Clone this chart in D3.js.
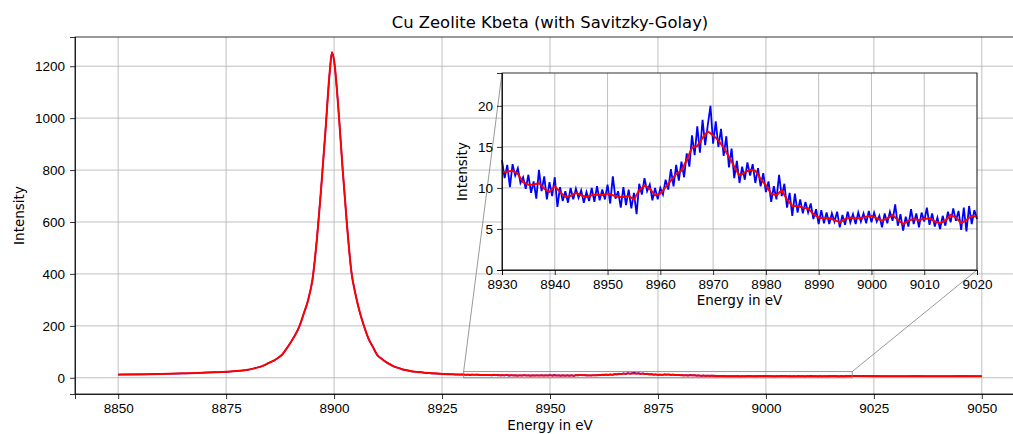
<!DOCTYPE html>
<html>
<head>
<meta charset="utf-8">
<script src="https://cdn.jsdelivr.net/npm/d3@7"></script>
<style>
  body { margin: 0; background: #fff; }
  svg { display: block; font-family: "DejaVu Sans", sans-serif; }
  .grid line { stroke: #b0b0b0; stroke-width: 0.8; }
  .axis path, .axis line { stroke: #000; stroke-width: 0.8; }
  .axis text { fill: #000; font-size: 13.5px; }
</style>
</head>
<body>
<svg width="1013" height="434"></svg>
<script>
// Cu Zeolite Kbeta spectrum, raw (blue) and Savitzky-Golay smoothed (red)

// left part of the spectrum, before the zoomed window
const leftE = [8850, 8855, 8860, 8865, 8870, 8875, 8878, 8880, 8882, 8884, 8885, 8886, 8887, 8888,
  8889, 8890, 8891, 8892, 8893, 8894, 8895, 8896, 8897, 8898, 8899, 8899.5, 8900, 8901, 8902, 8903,
  8904, 8905, 8906, 8907, 8908, 8909, 8910, 8911, 8912, 8913, 8914, 8915, 8916, 8917, 8918, 8920,
  8922, 8925, 8928];
const leftSmooth = [12, 13.5, 15, 17, 19.5, 23, 27, 31, 38, 50, 58, 66, 76, 90,
  112, 138, 165, 200, 248, 300, 380, 530, 730, 950, 1180, 1252, 1222, 1035, 800, 585,
  410, 318, 250, 195, 150, 118, 88, 73, 61, 51, 43, 37, 32, 28, 25, 21,
  18, 15, 13];
const leftRaw = [13, 13, 15.5, 16.5, 20, 22.5, 27.5, 30, 39, 49, 59, 65, 77, 89,
  113, 137, 166, 199, 249, 301, 378, 532, 728, 952, 1178, 1255, 1220, 1037, 798, 587,
  408, 320, 248, 196, 149, 119, 87, 74, 60, 52, 42, 38, 31, 29, 24, 22,
  17, 15.5, 12.5];

// zoomed window 8930 - 9020 eV, raw counts every 0.5 eV
const insetStart = 8930;
const insetRaw = [
  13.4, 11.2, 12.8, 10.1, 12.9, 11.5, 12.4, 10.6, 11.3, 9.9,
  11.6, 9.4, 10.8, 8.7, 12.2, 9.6, 11.4, 8.6, 10.7, 9.0,
  11.3, 7.7, 10.1, 8.4, 9.6, 8.2, 10.0, 8.6, 9.9, 8.8,
  9.7, 8.2, 9.5, 8.4, 10.0, 8.3, 10.2, 8.5, 9.8, 8.6,
  10.4, 8.1, 11.4, 8.7, 9.6, 7.6, 10.1, 7.9, 9.8, 7.5,
  9.4, 6.8, 10.5, 9.2, 11.2, 9.6, 10.4, 8.5, 10.0, 8.6,
  10.0, 9.2, 11.0, 9.8, 12.3, 10.2, 12.8, 10.9, 13.2, 11.3,
  14.2, 12.6, 16.4, 14.0, 17.5, 14.3, 18.3, 15.2, 17.7, 20.0,
  15.4, 18.1, 15.0, 17.2, 13.9, 16.3, 12.5, 14.8, 11.2, 13.3,
  10.6, 12.6, 11.0, 13.1, 11.5, 12.9, 10.6, 12.4, 10.2, 11.8,
  9.5, 10.8, 8.3, 10.2, 8.6, 11.6, 9.0, 10.5, 7.6, 9.4,
  6.6, 9.3, 7.0, 8.6, 6.9, 8.3, 7.0, 8.1, 6.2, 7.4,
  5.6, 7.3, 5.7, 7.0, 5.6, 6.9, 5.9, 7.1, 5.2, 6.7,
  5.5, 7.1, 5.8, 6.8, 5.6, 7.0, 5.9, 6.9, 5.7, 7.2,
  5.8, 7.0, 5.9, 6.6, 5.2, 6.9, 5.7, 7.1, 6.0, 8.0,
  5.4, 6.8, 4.8, 6.5, 5.3, 7.4, 5.6, 6.9, 5.2, 7.0,
  5.9, 7.6, 5.5, 6.9, 5.3, 6.4, 5.0, 6.6, 5.4, 7.1,
  5.8, 7.5, 6.0, 7.2, 4.9, 7.6, 4.7, 7.8, 5.6, 7.3,
  6.2];
// smoothed curve every 1 eV
const insetSmooth = [
  11.9, 12.0, 12.1, 11.7, 10.7, 10.4, 10.4, 10.6, 9.9, 9.5,
  10.2, 9.5, 8.9, 9.0, 9.4, 9.1, 8.9, 9.1, 9.2, 9.1,
  9.3, 9.1, 8.9, 8.9, 9.0, 8.6, 9.7, 10.3, 9.9, 9.1,
  9.3, 10.1, 10.9, 11.7, 12.1, 13.4, 14.9, 15.1, 16.1, 16.9,
  16.4, 15.8, 14.9, 13.8, 12.6, 11.5, 11.9, 12.2, 12.1, 11.1,
  10.3, 9.3, 9.1, 9.7, 8.6, 7.8, 7.8, 7.6, 7.5, 6.8,
  6.4, 6.3, 6.3, 6.1, 5.8, 6.2, 6.4, 6.3, 6.3, 6.5,
  6.6, 6.3, 6.0, 6.3, 6.7, 6.1, 5.6, 6.0, 6.2, 6.1,
  6.2, 6.3, 5.9, 5.7, 6.0, 6.7, 6.4, 5.7, 6.1, 6.6,
  6.5];

// right part of the spectrum, after the zoomed window
const rightE = [9025, 9030, 9035, 9040, 9045, 9050];
const rightSmooth = [6.3, 6.1, 6.2, 6.0, 6.1, 6.3];
const rightRaw = [6.6, 5.8, 6.5, 5.7, 6.4, 6.1];

// tick labels
const mainXTicks = [8850, 8875, 8900, 8925, 8950, 8975, 9000, 9025, 9050];
const mainYTicks = [0, 200, 400, 600, 800, 1000, 1200];
const insetXTicks = [8930, 8940, 8950, 8960, 8970, 8980, 8990, 9000, 9010, 9020];
const insetYTicks = [0, 5, 10, 15, 20];

// build point lists
const insetRawPts = insetRaw.map((v, i) => [insetStart + i * 0.5, v]);
const insetSmoothPts = insetSmooth.map((v, i) => [insetStart + i, v]);
const rawPts = leftE.map((e, i) => [e, leftRaw[i]])
  .concat(insetRawPts)
  .concat(rightE.map((e, i) => [e, rightRaw[i]]));
const smoothPts = leftE.map((e, i) => [e, leftSmooth[i]])
  .concat(insetSmoothPts)
  .concat(rightE.map((e, i) => [e, rightSmooth[i]]));

const svg = d3.select("svg");

// main axes box (right edge runs off the picture)
const main = { left: 75, right: 1025, top: 37, bottom: 394 };
const x = d3.scaleLinear().domain([8840, 9060]).range([main.left, main.right]);
const y = d3.scaleLinear().domain([-62.5, 1312.5]).range([main.bottom, main.top]);

// grid
const grid = svg.append("g").attr("class", "grid");
grid.selectAll(".gx").data(mainXTicks).enter().append("line")
  .attr("x1", d => x(d)).attr("x2", d => x(d))
  .attr("y1", main.top).attr("y2", main.bottom);
grid.selectAll(".gy").data(mainYTicks).enter().append("line")
  .attr("x1", main.left).attr("x2", main.right)
  .attr("y1", d => y(d)).attr("y2", d => y(d));

const line = d3.line().curve(d3.curveMonotoneX).x(d => x(d[0])).y(d => y(d[1]));

svg.append("path").datum(rawPts)
  .attr("fill", "none").attr("stroke", "blue").attr("stroke-width", 1.5)
  .attr("d", line);
svg.append("path").datum(smoothPts)
  .attr("fill", "none").attr("stroke", "red").attr("stroke-width", 2)
  .attr("d", line);

// axes
svg.append("g").attr("class", "axis")
  .attr("transform", "translate(0," + main.bottom + ")")
  .call(d3.axisBottom(x).tickValues(mainXTicks).tickFormat(d3.format("d")).tickSizeOuter(0).tickSize(5).tickPadding(4));
svg.append("g").attr("class", "axis")
  .attr("transform", "translate(" + main.left + ",0)")
  .call(d3.axisLeft(y).tickValues(mainYTicks).tickFormat(d3.format("d")).tickSizeOuter(0).tickSize(5).tickPadding(5));

// frame
svg.append("rect")
  .attr("x", main.left).attr("y", main.top)
  .attr("width", main.right - main.left).attr("height", main.bottom - main.top)
  .attr("fill", "none").attr("stroke", "#000").attr("stroke-width", 0.8);

// title and labels
svg.append("text")
  .attr("x", (main.left + main.right) / 2).attr("y", 28)
  .attr("text-anchor", "middle").style("font-size", "16.4px")
  .text("Cu Zeolite Kbeta (with Savitzky-Golay)");
svg.append("text")
  .attr("x", (main.left + main.right) / 2).attr("y", 430)
  .attr("text-anchor", "middle").style("font-size", "13.5px")
  .text("Energy in eV");
svg.append("text")
  .attr("transform", "translate(24," + (main.top + main.bottom) / 2 + ") rotate(-90)")
  .attr("text-anchor", "middle").style("font-size", "13.5px")
  .text("Intensity");

// inset axes
const ins = { left: 502, right: 977, top: 73, bottom: 270 };
const xi = d3.scaleLinear().domain([8930, 9020]).range([ins.left, ins.right]);
const yi = d3.scaleLinear().domain([0, 24]).range([ins.bottom, ins.top]);

// zoom indicator on the main axes
const zoomBox = svg.append("g").attr("stroke", "#808080").attr("stroke-opacity", 0.8)
  .attr("fill", "none").attr("stroke-width", 1);
zoomBox.append("rect")
  .attr("x", x(8930)).attr("y", y(24))
  .attr("width", x(9020) - x(8930)).attr("height", y(0) - y(24));
zoomBox.append("line")
  .attr("x1", x(8930)).attr("y1", y(24)).attr("x2", ins.left).attr("y2", ins.top);
zoomBox.append("line")
  .attr("x1", x(9020)).attr("y1", y(24)).attr("x2", ins.right).attr("y2", ins.bottom);

svg.append("rect")
  .attr("x", ins.left).attr("y", ins.top)
  .attr("width", ins.right - ins.left).attr("height", ins.bottom - ins.top)
  .attr("fill", "#fff");

const igrid = svg.append("g").attr("class", "grid");
igrid.selectAll(".gx").data(insetXTicks).enter().append("line")
  .attr("x1", d => xi(d)).attr("x2", d => xi(d))
  .attr("y1", ins.top).attr("y2", ins.bottom);
igrid.selectAll(".gy").data(insetYTicks).enter().append("line")
  .attr("x1", ins.left).attr("x2", ins.right)
  .attr("y1", d => yi(d)).attr("y2", d => yi(d));

const iline = d3.line().x(d => xi(d[0])).y(d => yi(d[1]));
svg.append("path").datum(insetRawPts)
  .attr("fill", "none").attr("stroke", "blue").attr("stroke-width", 1.8)
  .attr("d", iline);
svg.append("path").datum(insetSmoothPts)
  .attr("fill", "none").attr("stroke", "red").attr("stroke-width", 2)
  .attr("d", iline);

svg.append("g").attr("class", "axis")
  .attr("transform", "translate(0," + ins.bottom + ")")
  .call(d3.axisBottom(xi).tickValues(insetXTicks).tickFormat(d3.format("d")).tickSizeOuter(0).tickSize(5).tickPadding(4));
svg.append("g").attr("class", "axis")
  .attr("transform", "translate(" + ins.left + ",0)")
  .call(d3.axisLeft(yi).tickValues(insetYTicks).tickSizeOuter(0).tickSize(5).tickPadding(4));

svg.append("rect")
  .attr("x", ins.left).attr("y", ins.top)
  .attr("width", ins.right - ins.left).attr("height", ins.bottom - ins.top)
  .attr("fill", "none").attr("stroke", "#000").attr("stroke-width", 0.8);

svg.append("text")
  .attr("x", (ins.left + ins.right) / 2).attr("y", 305)
  .attr("text-anchor", "middle").style("font-size", "13.5px")
  .text("Energy in eV");
svg.append("text")
  .attr("transform", "translate(467," + (ins.top + ins.bottom) / 2 + ") rotate(-90)")
  .attr("text-anchor", "middle").style("font-size", "13.5px")
  .text("Intensity");
</script>
</body>
</html>
